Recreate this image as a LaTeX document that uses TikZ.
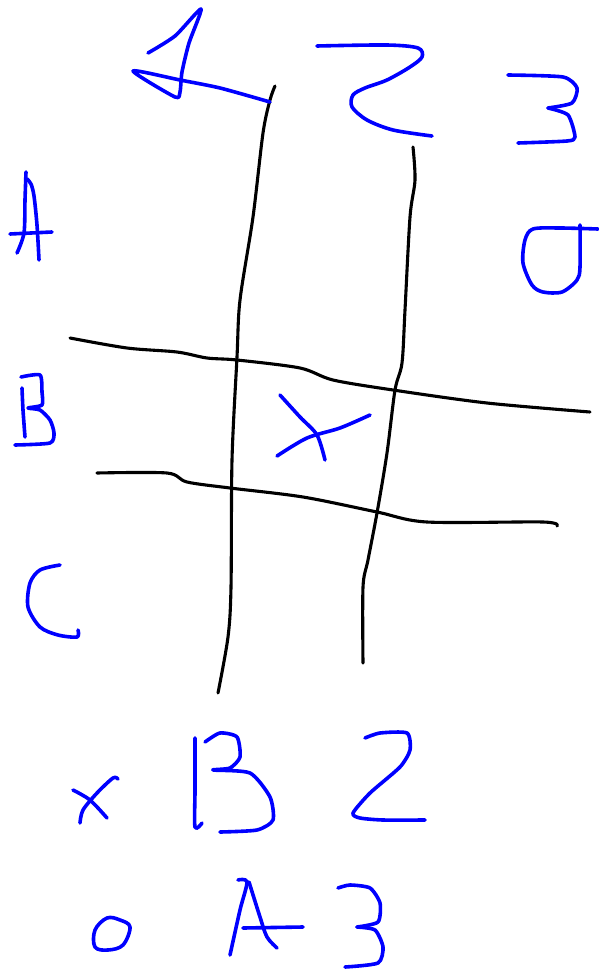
\documentclass[tikz,border=0pt]{standalone}
\begin{document}
\begin{tikzpicture}[x=1pt,y=-1pt,
  grid/.style={draw=black,line width=3.1pt,line cap=round,line join=round},
  ink/.style={draw=blue,line width=3.6pt,line cap=round,line join=round}]
\useasboundingbox[fill=white] (0,0) rectangle (598,971);
% grid lines
\draw[grid] plot[smooth,tension=0.5] coordinates {(275,86)(270,100)(263,133)(253,217)(240,300)(237,357)(232,460)(231,587)(228,637)(218,693)};
\draw[grid] plot[smooth,tension=0.5] coordinates {(413,147)(415,180)(410,217)(405,310)(402,363)(395,390)(387,453)(377,513)(368,560)(363,587)(363,663)};
\draw[grid] plot[smooth,tension=0.5] coordinates {(70,338)(127,348)(177,352)(207,358)(237,360)(300,368)(333,380)(393,390)(487,403)(590,412)};
\draw[grid] plot[smooth,tension=0.5] coordinates {(97,473)(167,473)(187,482)(230,488)(303,497)(377,512)(427,522)(543,522)(557,526)};
% top 1
\draw[ink] plot[smooth,tension=0.4] coordinates {(148,53)(175,36)(201,9)(189,43)(182,72)(180,92)(175,97)(133,71)(180,80)(220,88)(270,102)};
% top 2
\draw[ink] plot[smooth,tension=0.5] coordinates {(317,46)(387,45)(418,48)(422,57)(410,67)(387,80)(365,88)(353,95)(352,107)(367,120)(393,130)(432,136)};
% top 3
\draw[ink] plot[smooth,tension=0.4] coordinates {(508,75)(563,77)(577,88)(572,103)(548,108)};
\draw[ink] plot[smooth,tension=0.4] coordinates {(548,108)(568,115)(575,137)(567,141)(518,143)};
% o at A3
\draw[ink] plot[smooth,tension=0.5] coordinates {(580,225)(580,267)(577,280)(562,292)(543,292)(532,285)(523,263)(525,240)(533,229)(560,228)(598,229)};
% A
\draw[ink] plot[smooth,tension=0.5] coordinates {(26,172)(25,200)(24,233)(17,253)};
\draw[ink] plot[smooth,tension=0.5] coordinates {(27,179)(31,184)(34,196)(37,225)(39,260)};
\draw[ink] (10,234) -- (52,232);
% B
\draw[ink] plot[smooth,tension=0.5] coordinates {(22,388)(23,410)(25,437)};
\draw[ink] plot[smooth,tension=0.4] coordinates {(21,377)(40,375)(42,392)(42,405)(28,408)(40,410)(50,420)(54,433)(50,443)(15,445)};
% C
\draw[ink] plot[smooth,tension=0.5] coordinates {(60,565)(40,570)(30,583)(28,607)(40,627)(58,635)(77,637)(78,630)};
% X in cell
\draw[ink] plot[smooth,tension=0.5] coordinates {(280,395)(300,417)(317,435)(325,460)};
\draw[ink] plot[smooth,tension=0.5] coordinates {(277,456)(307,438)(340,428)(370,415)};
% bottom x
\draw[ink] plot[smooth,tension=0.5] coordinates {(73,790)(90,800)(107,818)};
\draw[ink] plot[smooth,tension=0.5] coordinates {(118,779)(113,778)(97,793)(83,810)(80,823)};
% bottom B
\draw[ink] plot[smooth,tension=0.5] coordinates {(195,738)(195,790)(195,827)(202,823)};
\draw[ink] plot[smooth,tension=0.4] coordinates {(205,742)(220,733)(237,737)(240,757)(230,768)(213,770)(250,773)(270,797)(273,820)(257,830)(220,832)};
% bottom 2
\draw[ink] plot[smooth,tension=0.4] coordinates {(365,738)(380,733)(407,733)(410,750)(400,767)(370,793)(353,813)(360,818)(383,820)(425,820)};
% bottom o
\draw[ink] plot[smooth cycle,tension=0.6] coordinates {(130,927)(120,920)(107,918)(95,930)(95,947)(108,950)(123,945)};
% bottom A
\draw[ink] plot[smooth,tension=0.5] coordinates {(238,880)(247,882)(240,910)(230,955)};
\draw[ink] plot[smooth,tension=0.5] coordinates {(249,882)(260,917)(267,937)(277,948)};
\draw[ink] (243,928) -- (303,927);
% bottom 3
\draw[ink] plot[smooth,tension=0.4] coordinates {(338,888)(350,885)(370,888)(380,903)(378,922)(357,927)};
\draw[ink] plot[smooth,tension=0.4] coordinates {(357,927)(375,930)(383,947)(378,963)(345,967)};
\end{tikzpicture}
\end{document}
